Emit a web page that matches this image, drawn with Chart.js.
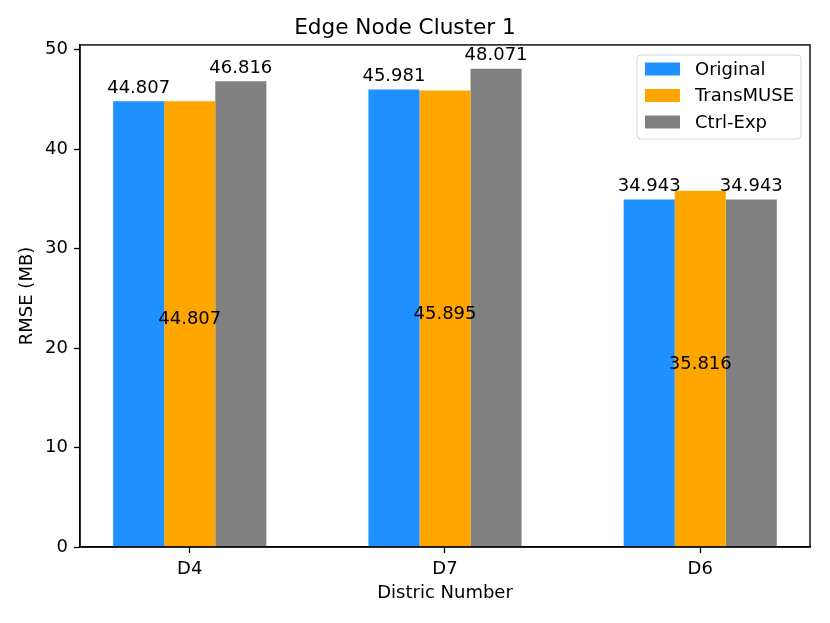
<!DOCTYPE html>
<html>
<head>
<meta charset="utf-8">
<script src="https://cdn.jsdelivr.net/npm/chart.js@4/dist/chart.umd.min.js"></script>
<style>
  html, body { margin: 0; padding: 0; background: #fff; }
  #wrap { width: 830px; height: 623px; }
</style>
</head>
<body>
<div id="wrap"><canvas id="chart" width="830" height="623"></canvas></div>
<script>
// data
var districts = ["D4", "D7", "D6"];
var original = [44.807, 45.981, 34.943];
var transMuse = [44.807, 45.895, 35.816];
var ctrlExp = [46.816, 48.071, 34.943];
var yTicks = [0, 10, 20, 30, 40, 50];

var FONT = "'DejaVu Sans', sans-serif";

function toPoints(values) {
    return values.map(function (v, i) {
        return { x: i, y: v };
    });
}

// bar value labels (top for Original / Ctrl-Exp, centre for TransMUSE)
var barLabels = {
    id: 'barLabels',
    afterDatasetsDraw: function (chart) {
        var ctx = chart.ctx;
        ctx.save();
        ctx.font = "18px " + FONT;
        ctx.fillStyle = "#000";
        ctx.textAlign = "center";
        ctx.textBaseline = "alphabetic";
        chart.data.datasets.forEach(function (ds, di) {
            var meta = chart.getDatasetMeta(di);
            meta.data.forEach(function (bar, i) {
                var txt = String(ds.data[i].y);
                if (di === 1) {
                    ctx.fillText(txt, bar.x, (bar.y + bar.base) / 2 + 0.5);
                } else {
                    ctx.fillText(txt, bar.x, bar.y - 8.5);
                }
            });
        });
        ctx.restore();
    }
};

// frame round the plot + legend box in the upper right corner
var frameAndLegend = {
    id: 'frameAndLegend',
    afterDraw: function (chart) {
        var ctx = chart.ctx;
        var a = chart.chartArea;
        ctx.save();
        ctx.strokeStyle = "#000";
        ctx.lineWidth = 1.4;
        ctx.strokeRect(a.left, a.top, a.right - a.left, a.bottom - a.top);

        // legend
        var bx = 637, by = 55, bw = 164, bh = 84, r = 4;
        ctx.beginPath();
        ctx.moveTo(bx + r, by);
        ctx.arcTo(bx + bw, by, bx + bw, by + bh, r);
        ctx.arcTo(bx + bw, by + bh, bx, by + bh, r);
        ctx.arcTo(bx, by + bh, bx, by, r);
        ctx.arcTo(bx, by, bx + bw, by, r);
        ctx.closePath();
        ctx.fillStyle = "rgba(255,255,255,0.8)";
        ctx.fill();
        ctx.strokeStyle = "#d6d6d6";
        ctx.lineWidth = 1;
        ctx.stroke();

        ctx.font = "18px " + FONT;
        ctx.textBaseline = "middle";
        ctx.textAlign = "left";
        chart.data.datasets.forEach(function (ds, di) {
            var cy = 69 + di * 26.5;
            ctx.fillStyle = ds.backgroundColor;
            ctx.fillRect(645, cy - 6.5, 35, 13);
            ctx.fillStyle = "#000";
            ctx.fillText(ds.label, 695, cy + 1);
        });
        ctx.restore();
    }
};

var ctx = document.getElementById("chart").getContext("2d");
var myChart = new Chart(ctx, {
    type: 'bar',
    data: {
        datasets: [{
            label: "Original",
            backgroundColor: "#1E90FF",
            borderWidth: 0,
            data: toPoints(original)
        }, {
            label: "TransMUSE",
            backgroundColor: "#FFA500",
            borderWidth: 0,
            data: toPoints(transMuse)
        }, {
            label: "Ctrl-Exp",
            backgroundColor: "#808080",
            borderWidth: 0,
            data: toPoints(ctrlExp)
        }]
    },
    options: {
        responsive: false,
        animation: false,
        devicePixelRatio: 1,
        layout: { padding: { left: 0, right: 20, top: 0, bottom: 0 } },
        datasets: {
            bar: { categoryPercentage: 0.6, barPercentage: 1.0 }
        },
        plugins: {
            legend: { display: false },
            tooltip: { enabled: false },
            title: {
                display: true,
                text: "Edge Node Cluster 1",
                color: "#000",
                font: { family: FONT, size: 21.6, weight: 'normal' },
                padding: { top: 15, bottom: 4 }
            }
        },
        scales: {
            x: {
                type: 'linear',
                offset: false,
                min: -0.43,
                max: 2.43,
                afterBuildTicks: function (scale) {
                    scale.ticks = districts.map(function (d, i) { return { value: i }; });
                },
                afterFit: function (scale) { scale.height = 76; },
                ticks: {
                    color: "#000",
                    font: { family: FONT, size: 18 },
                    padding: 6,
                    maxRotation: 0,
                    callback: function (v) { return districts[v]; }
                },
                grid: {
                    display: true,
                    offset: false,
                    drawOnChartArea: false,
                    drawTicks: true,
                    tickLength: 6,
                    tickWidth: 1.3,
                    tickColor: "#000"
                },
                border: { display: true, color: "#000", width: 1.4 },
                title: {
                    display: true,
                    text: "Distric Number",
                    color: "#000",
                    font: { family: FONT, size: 18 },
                    padding: { top: 0, bottom: 19 }
                }
            },
            y: {
                min: 0,
                max: 50.47,
                afterBuildTicks: function (scale) {
                    scale.ticks = yTicks.map(function (v) { return { value: v }; });
                },
                afterFit: function (scale) { scale.width = 80; },
                ticks: {
                    color: "#000",
                    font: { family: FONT, size: 18 },
                    padding: 6
                },
                grid: {
                    display: true,
                    drawOnChartArea: false,
                    drawTicks: true,
                    tickLength: 6,
                    tickWidth: 1.3,
                    tickColor: "#000"
                },
                border: { display: true, color: "#000", width: 1.4 },
                title: {
                    display: true,
                    text: "RMSE (MB)",
                    color: "#000",
                    font: { family: FONT, size: 18 },
                    padding: { top: 17, bottom: 0 }
                }
            }
        }
    },
    plugins: [barLabels, frameAndLegend]
});
</script>
</body>
</html>
